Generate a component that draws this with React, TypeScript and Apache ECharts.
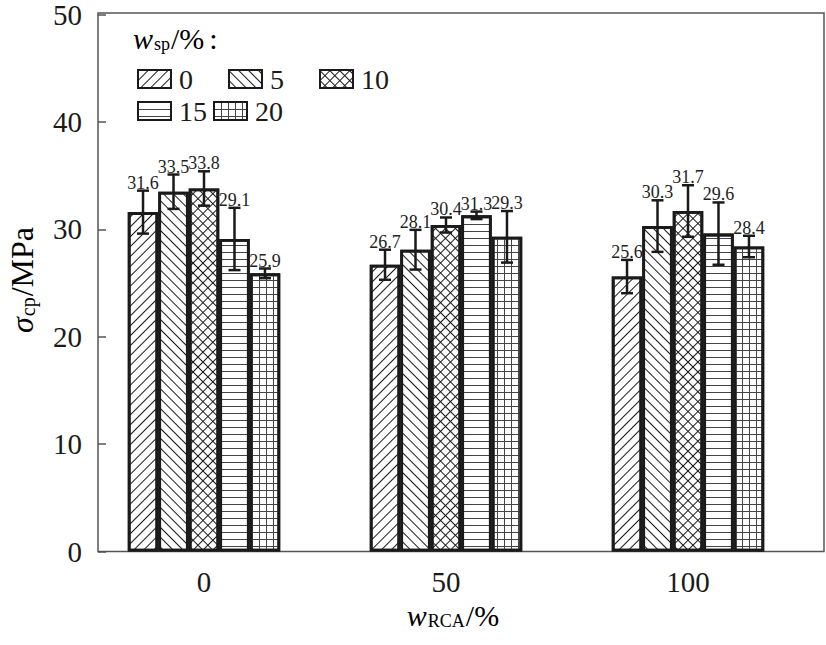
import React, { useEffect, useRef } from 'react';
import * as echarts from 'echarts';

// ---- data ----
const categories = ['0', '50', '100']; // w_RCA / %
const seriesNames = ['0', '5', '10', '15', '20']; // w_sp / %
const valuesSp0 = [31.6, 26.7, 25.6];
const valuesSp5 = [33.5, 28.1, 30.3];
const valuesSp10 = [33.8, 30.4, 31.7];
const valuesSp15 = [29.1, 31.3, 29.6];
const valuesSp20 = [25.9, 29.3, 28.4];
const errSp0 = [2.0, 1.4, 1.55];
const errSp5 = [1.6, 1.85, 2.4];
const errSp10 = [1.6, 0.7, 2.4];
const errSp15 = [2.9, 0.35, 2.9];
const errSp20 = [0.45, 2.4, 1.0];
const yMin = 0;
const yMax = 50;
const yInterval = 10;

const valueSets = [valuesSp0, valuesSp5, valuesSp10, valuesSp15, valuesSp20];
const errSets = [errSp0, errSp5, errSp10, errSp15, errSp20];

const INK = '#1a1a1a';
const FONT = "'Liberation Serif', 'Times New Roman', serif";
const CAT_GAP = 0.37;

const decals: any[] = [
  { symbol: 'rect', symbolSize: 1, dashArrayX: [1, 0], dashArrayY: [1, 6], rotation: -Math.PI / 4, color: INK },
  { symbol: 'rect', symbolSize: 1, dashArrayX: [1, 0], dashArrayY: [1, 6], rotation: Math.PI / 4, color: INK },
  { symbol: 'rect', symbolSize: 1, dashArrayX: [[1, 0], [1, 6]], dashArrayY: [1, 0, 6, 0], rotation: Math.PI / 4, color: INK },
  { symbol: 'rect', symbolSize: 1, dashArrayX: [1, 0], dashArrayY: [1, 6], rotation: 0, color: '#444' },
  { symbol: 'rect', symbolSize: 1, dashArrayX: [[1, 0], [1, 6]], dashArrayY: [1, 0, 6, 0], rotation: 0, color: '#444' },
];

const richBase = (size: number, subSize: number) => ({
  i: { fontFamily: FONT, fontStyle: 'italic', fontSize: size, lineHeight: size, color: INK },
  s: {
    fontFamily: FONT,
    fontSize: subSize,
    lineHeight: Math.round(subSize * 0.75),
    verticalAlign: 'bottom',
    padding: [0, 1, 0, 1],
    color: INK,
  },
  n: { fontFamily: FONT, fontSize: size, lineHeight: size, color: INK },
  c: { fontFamily: FONT, fontSize: size, lineHeight: size, color: INK, padding: [0, 0, 0, 5] },
});

export default function App() {
  const ref = useRef<HTMLDivElement>(null);

  useEffect(() => {
    if (!ref.current) return;
    const chart = echarts.init(ref.current, undefined, { renderer: 'svg' });

    const barSeries = seriesNames.map((name, i) => ({
      name,
      type: 'bar',
      data: valueSets[i],
      barGap: '0%',
      barCategoryGap: `${CAT_GAP * 100}%`,
      itemStyle: { color: '#ffffff', borderColor: INK, borderWidth: 2.8, decal: decals[i] },
      emphasis: { disabled: true },
      z: 2,
    }));

    const errData: number[][] = [];
    seriesNames.forEach((_, s) => {
      categories.forEach((__, c) => {
        errData.push([c, s, valueSets[s][c], errSets[s][c]]);
      });
    });

    const errSeries = {
      type: 'custom',
      coordinateSystem: 'cartesian2d',
      encode: { x: 0, y: 2 },
      data: errData,
      z: 5,
      silent: true,
      renderItem: (params: any, api: any) => {
        const c = api.value(0);
        const s = api.value(1);
        const v = api.value(2);
        const e = api.value(3);
        const band = api.size([1, 0])[0];
        const bw = (band * (1 - CAT_GAP)) / seriesNames.length;
        const cx = api.coord([c, v])[0] + (s - (seriesNames.length - 1) / 2) * bw;
        const yT = api.coord([c, v + e])[1];
        const yB = api.coord([c, v - e])[1];
        const cap = 6;
        const ls = { stroke: INK, lineWidth: 2.5 };
        return {
          type: 'group',
          children: [
            { type: 'line', shape: { x1: cx, y1: yT, x2: cx, y2: yB }, style: ls },
            { type: 'line', shape: { x1: cx - cap, y1: yT, x2: cx + cap, y2: yT }, style: ls },
            { type: 'line', shape: { x1: cx - cap, y1: yB, x2: cx + cap, y2: yB }, style: ls },
            {
              type: 'text',
              x: cx,
              y: yT + 1,
              style: {
                text: v.toFixed(1),
                fill: '#222',
                fontSize: 18,
                fontFamily: FONT,
                align: 'center',
                verticalAlign: 'bottom',
              },
            },
          ],
        };
      },
    };

    const legendCommon = {
      left: 137,
      padding: 0,
      itemWidth: 33,
      itemHeight: 18,
      icon: 'rect',
      selectedMode: false,
      textStyle: { fontSize: 28, fontFamily: FONT, color: INK, padding: [0, 0, 0, 3] },
      itemStyle: { borderWidth: 2, borderColor: INK },
    };

    chart.setOption({
      animation: false,
      backgroundColor: '#ffffff',
      grid: { left: 83, right: 17, top: 13, bottom: 93.5, containLabel: false },
      xAxis: {
        type: 'category',
        data: categories,
        axisLine: { show: false },
        axisTick: { show: false },
        axisLabel: { fontSize: 29, fontFamily: FONT, color: INK, margin: 16 },
      },
      yAxis: {
        type: 'value',
        min: yMin,
        max: yMax,
        interval: yInterval,
        offset: -15,
        splitLine: { show: false },
        axisLine: { show: false },
        axisTick: { show: true, inside: true, length: 8, lineStyle: { color: '#555', width: 1.5 } },
        axisLabel: { fontSize: 29, fontFamily: FONT, color: INK, margin: 16 },
      },
      legend: [
        { ...legendCommon, data: seriesNames.slice(0, 3), top: 65, itemGap: 35 },
        { ...legendCommon, data: seriesNames.slice(3), top: 97, itemGap: 6 },
      ],
      graphic: [
        {
          type: 'rect',
          z: 0,
          silent: true,
          shape: { x: 98, y: 13, width: 726, height: 538.5 },
          style: { fill: 'none', stroke: '#555', lineWidth: 1.5 },
        },
        {
          type: 'text',
          x: 133,
          y: 38,
          style: { text: '{i|w}{s|sp}{n|/%}{c|:}', rich: richBase(30, 18), align: 'left', verticalAlign: 'middle' },
        },
        {
          type: 'text',
          x: 453,
          y: 615,
          style: { text: '{i|w}{s|RCA}{n|/%}', rich: richBase(30, 18), align: 'center', verticalAlign: 'middle' },
        },
        {
          type: 'text',
          x: 22,
          y: 280,
          rotation: Math.PI / 2,
          style: { text: '{i|σ}{s|cp}{n|/MPa}', rich: richBase(32, 20), align: 'center', verticalAlign: 'middle' },
        },
      ],
      series: [...barSeries, errSeries],
    } as any);

    return () => chart.dispose();
  }, []);

  return (
    <div
      ref={ref}
      style={{ position: 'absolute', left: 0, top: 0, width: 826, height: 645, background: '#fff' }}
    />
  );
}
